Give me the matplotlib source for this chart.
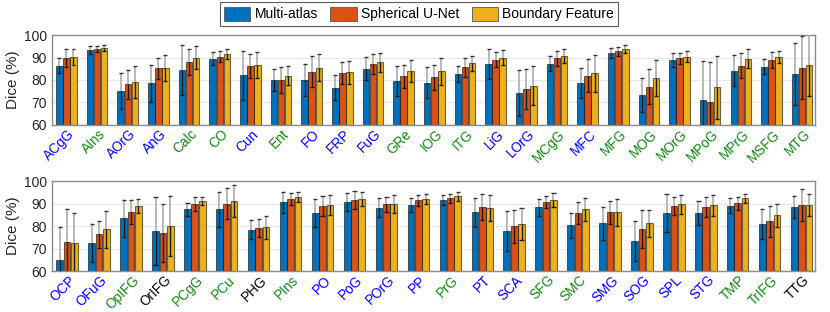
import matplotlib
matplotlib.use("Agg")
import matplotlib.pyplot as plt
import matplotlib.transforms as mtransforms
import numpy as np
from matplotlib.patches import Patch

plt.rcParams['font.family'] = ['Liberation Sans', 'DejaVu Sans']

series = ['Multi-atlas', 'Spherical U-Net', 'Boundary Feature']
colors = ['#0072BD', '#D95319', '#EDB120']

# ---- top row ----
top_labels = ['ACgG', 'AIns', 'AOrG', 'AnG', 'Calc', 'CO', 'Cun', 'Ent', 'FO', 'FRP',
              'FuG', 'GRe', 'IOG', 'ITG', 'LiG', 'LOrG', 'MCgG', 'MFC', 'MFG', 'MOG',
              'MOrG', 'MPoG', 'MPrG', 'MSFG', 'MTG']
top_label_colors = ['b', 'g', 'b', 'b', 'g', 'g', 'b', 'g', 'b', 'b',
                    'b', 'g', 'g', 'g', 'b', 'b', 'g', 'b', 'g', 'g',
                    'g', 'g', 'g', 'g', 'g']
top_multi = [86.4, 93.3, 75.0, 78.5, 84.5, 89.5, 82.0, 80.0, 80.0, 76.6,
             85.0, 79.6, 78.8, 82.7, 87.1, 74.1, 87.3, 78.5, 92.1, 73.2,
             88.7, 71.0, 84.1, 85.9, 82.8]
top_multi_sd = [3.5, 1.8, 8.0, 8.3, 11.0, 2.8, 11.0, 5.0, 7.3, 5.6,
                5.1, 6.8, 7.0, 3.7, 6.5, 10.3, 3.5, 6.7, 2.1, 7.5,
                3.1, 17.6, 6.8, 3.4, 13.7]
top_unet = [89.6, 93.8, 78.0, 85.2, 88.0, 90.4, 86.3, 80.0, 83.6, 83.0,
            87.0, 81.6, 81.2, 85.6, 89.0, 75.9, 89.6, 81.9, 92.7, 77.0,
            89.6, 70.1, 86.4, 88.9, 85.5]
top_unet_sd = [4.0, 1.4, 6.3, 4.8, 5.6, 2.4, 5.3, 5.6, 6.9, 5.0,
               4.5, 5.2, 5.6, 4.2, 3.4, 8.8, 3.5, 7.3, 2.0, 7.7,
               2.3, 17.8, 5.5, 3.6, 13.9]
top_bound = [90.4, 94.2, 79.0, 85.5, 90.0, 91.5, 86.8, 81.9, 85.5, 83.4,
             87.9, 83.9, 83.9, 87.4, 89.9, 77.5, 90.8, 83.0, 93.9, 80.7,
             90.4, 76.7, 89.5, 90.2, 86.8]
top_bound_sd = [3.6, 1.4, 7.0, 5.8, 5.3, 2.3, 5.8, 4.3, 6.1, 5.2,
                4.3, 4.9, 6.1, 3.4, 3.4, 8.8, 3.2, 8.3, 1.8, 8.0,
                2.6, 13.9, 4.2, 2.8, 14.0]

# ---- bottom row ----
bot_labels = ['OCP', 'OFuG', 'OpIFG', 'OrIFG', 'PCgG', 'PCu', 'PHG', 'PIns', 'PO', 'PoG',
              'POrG', 'PP', 'PrG', 'PT', 'SCA', 'SFG', 'SMC', 'SMG', 'SOG', 'SPL',
              'STG', 'TMP', 'TrIFG', 'TTG']
bot_label_colors = ['b', 'b', 'g', 'k', 'g', 'g', 'k', 'g', 'b', 'b',
                    'b', 'b', 'g', 'b', 'b', 'g', 'g', 'b', 'b', 'b',
                    'b', 'g', 'g', 'k']
bot_multi = [65.0, 72.4, 83.4, 77.8, 87.4, 87.4, 78.4, 90.5, 85.9, 90.7,
             88.1, 89.3, 91.6, 86.1, 77.8, 88.4, 80.4, 81.2, 73.5, 85.8,
             85.8, 89.0, 81.0, 88.4]
bot_multi_sd = [14.4, 8.5, 8.2, 15.0, 2.9, 7.9, 4.3, 4.8, 6.2, 4.0,
                4.2, 3.2, 2.2, 6.4, 8.7, 3.8, 5.6, 7.3, 8.9, 8.3,
                5.4, 3.4, 6.7, 5.0]
bot_unet = [72.9, 76.4, 86.1, 76.9, 89.8, 89.9, 79.1, 91.9, 88.9, 91.6,
            89.6, 91.4, 92.3, 88.3, 79.9, 90.7, 85.6, 86.1, 78.5, 88.9,
            88.4, 90.1, 82.1, 89.3]
bot_unet_sd = [14.7, 6.0, 5.4, 12.9, 3.0, 6.8, 4.2, 2.6, 4.3, 4.0,
               3.5, 2.5, 2.1, 5.8, 7.3, 2.8, 4.9, 5.2, 8.4, 3.8,
               4.6, 3.0, 6.8, 7.1]
bot_bound = [72.4, 78.5, 88.9, 80.0, 91.0, 91.0, 79.4, 92.9, 89.5, 92.0,
             89.8, 92.1, 93.2, 88.0, 81.0, 91.7, 87.4, 86.1, 81.2, 89.6,
             89.2, 92.3, 84.7, 89.3]
bot_bound_sd = [13.4, 8.2, 3.2, 13.5, 1.7, 7.1, 5.2, 2.2, 4.4, 3.0,
                4.1, 2.2, 2.0, 5.8, 7.2, 3.1, 5.0, 5.9, 6.1, 4.2,
                4.7, 2.0, 5.0, 5.0]

cmap_lbl = {'b': '#0000FF', 'g': '#118811', 'k': '#000000'}

fig = plt.figure(figsize=(8.3, 3.12), dpi=100)
ax_top = fig.add_axes([0.0627, 0.5994, 0.9193, 0.2884])
ax_bot = fig.add_axes([0.0627, 0.1314, 0.9193, 0.2884])

bw = 0.21
pitch = 0.23
capw = 0.13


def draw(ax, labels, lcolors, means, sds, ncat_full=25):
    n = len(labels)
    x = np.arange(n)
    for k, (m, s) in enumerate(zip(means, sds)):
        m = np.array(m)
        s = np.array(s)
        xs = x + (k - 1) * pitch
        ax.bar(xs, m - 60, bottom=60, width=bw, color=colors[k],
               edgecolor=(0, 0, 0, 0.55), linewidth=0.8, zorder=2)
        ax.vlines(xs, m, m + s, color='#b3b3b3', linewidth=1.3, zorder=3)
        ax.vlines(xs, m - s, m, color='#1a1a1a', linewidth=1.0, zorder=3)
        ax.hlines(m + s, xs - capw / 2, xs + capw / 2, color='#333333', linewidth=1.0, zorder=4)
        ax.hlines(m - s, xs - capw / 2, xs + capw / 2, color='#1a1a1a', linewidth=1.0, zorder=4)
    ax.set_ylim(60, 100)
    ax.set_xlim(-0.47, ncat_full - 1 + 0.42)
    ax.set_yticks([60, 70, 80, 90, 100])
    ax.set_xticks(x)
    ax.set_xticklabels(labels, rotation=45, ha='right', va='center',
                       rotation_mode='anchor', fontsize=9.8)
    ax.tick_params(axis='both', length=0, labelsize=10, colors='#262626')
    ax.tick_params(axis='x', pad=5, labelsize=9.8)
    offset = mtransforms.ScaledTranslation(6 / 100, 0, fig.dpi_scale_trans)
    for t, c in zip(ax.get_xticklabels(), lcolors):
        t.set_color(cmap_lbl[c])
        t.set_transform(t.get_transform() + offset)
    ax.yaxis.grid(True, color='#e8e8e8', linewidth=0.8, zorder=0)
    ax.set_axisbelow(True)
    for sp in ax.spines.values():
        sp.set_color('#8c8c8c')
        sp.set_linewidth(1.0)
    ax.set_ylabel('Dice (%)', fontsize=11, color='#262626', labelpad=3)


draw(ax_top, top_labels, top_label_colors, [top_multi, top_unet, top_bound],
     [top_multi_sd, top_unet_sd, top_bound_sd], 25)
draw(ax_bot, bot_labels, bot_label_colors, [bot_multi, bot_unet, bot_bound],
     [bot_multi_sd, bot_unet_sd, bot_bound_sd], 24)

handles = [Patch(facecolor=c, edgecolor='#555555', linewidth=0.6) for c in colors]
leg = fig.legend(handles, series, loc='center', bbox_to_anchor=(0.505, 0.955), ncol=3,
                 fontsize=10, frameon=True, fancybox=False, edgecolor='#333333',
                 handlelength=1.9, handleheight=1.2, handletextpad=0.3, columnspacing=0.9,
                 borderpad=0.3)
leg.get_frame().set_linewidth(0.8)

fig.savefig('out.png', dpi=100)
